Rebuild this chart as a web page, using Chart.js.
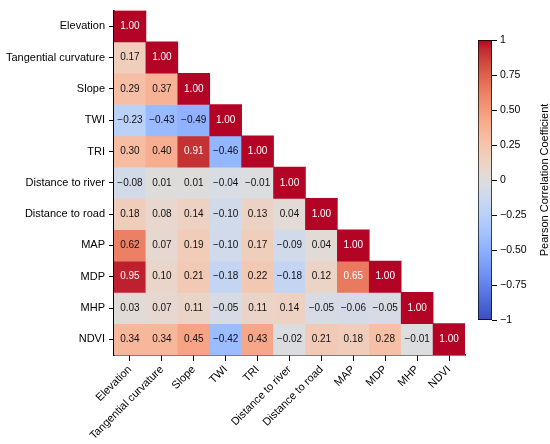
<!DOCTYPE html>
<html>
<head>
<meta charset="utf-8">
<script src="https://cdn.jsdelivr.net/npm/chart.js@4.4.0/dist/chart.umd.min.js"></script>
<style>
body{margin:0;background:#fff;}
#wrap{position:relative;width:550px;height:444px;}
#cb{position:absolute;left:470px;top:30px;}
</style>
</head>
<body>
<div id="wrap">
<canvas id="heat" width="550" height="444"></canvas>
<canvas id="cb" width="80" height="300"></canvas>
</div>
<script>
const varNames = ['Elevation','Tangential curvature','Slope','TWI','TRI','Distance to river',
  'Distance to road','MAP','MDP','MHP','NDVI'];

// lower triangle, row by row
const corrRows = [
  [1.00],
  [0.17, 1.00],
  [0.29, 0.37, 1.00],
  [-0.23, -0.43, -0.49, 1.00],
  [0.30, 0.40, 0.91, -0.46, 1.00],
  [-0.08, 0.01, 0.01, -0.04, -0.01, 1.00],
  [0.18, 0.08, 0.14, -0.10, 0.13, 0.04, 1.00],
  [0.62, 0.07, 0.19, -0.10, 0.17, -0.09, 0.04, 1.00],
  [0.95, 0.10, 0.21, -0.18, 0.22, -0.18, 0.12, 0.65, 1.00],
  [0.03, 0.07, 0.11, -0.05, 0.11, 0.14, -0.05, -0.06, -0.05, 1.00],
  [0.34, 0.34, 0.45, -0.42, 0.43, -0.02, 0.21, 0.18, 0.28, -0.01, 1.00]
];

const cbTicks = [-1, -0.75, -0.5, -0.25, 0, 0.25, 0.5, 0.75, 1];
const cbTitle = 'Pearson Correlation Coefficient';

// coolwarm colormap stops
const cw = [[59,76,192],[68,90,204],[77,104,215],[87,117,225],[98,130,234],[108,142,241],
  [119,154,247],[130,165,251],[141,176,254],[152,185,255],[163,194,255],[174,201,253],
  [184,208,249],[194,213,244],[204,217,238],[213,219,230],[221,221,221],[229,216,209],
  [236,211,197],[241,204,185],[245,196,173],[247,187,160],[247,177,148],[247,166,135],
  [244,154,123],[241,141,111],[236,127,99],[229,112,88],[222,96,77],[213,80,66],
  [203,62,56],[192,40,47],[180,4,38]];

function coolwarm(v){
  let t = (v + 1) / 2 * 32;
  t = Math.max(0, Math.min(32, t));
  const i = Math.min(31, Math.floor(t));
  const f = t - i;
  const a = cw[i], b = cw[i+1];
  const c = a.map((x,k) => Math.round(x + (b[k]-x)*f));
  return 'rgb(' + c.join(',') + ')';
}

function fmt(v){
  const s = Math.abs(v).toFixed(2);
  return v < 0 ? '\u2212' + s : s;
}

Chart.defaults.font.family = '"Liberation Sans", Arial, sans-serif';
Chart.defaults.color = '#000';

// one dataset per row, floating bars over the row's band
const datasets = corrRows.map((row, i) => ({
  label: varNames[i],
  data: varNames.map((n, j) => j < row.length ? [i, i+1] : null),
  backgroundColor: varNames.map((n, j) => j < row.length ? coolwarm(row[j]) : 'rgba(0,0,0,0)'),
  borderWidth: 0,
  barPercentage: 1,
  categoryPercentage: 1,
  grouped: false
}));

const cellText = {
  id: 'cellText',
  afterDatasetsDraw(chart){
    const ctx = chart.ctx;
    ctx.save();
    ctx.font = '10px "Liberation Sans", Arial, sans-serif';
    ctx.textAlign = 'center';
    ctx.textBaseline = 'middle';
    corrRows.forEach((row, i) => {
      const meta = chart.getDatasetMeta(i);
      row.forEach((v, j) => {
        const el = meta.data[j];
        ctx.fillStyle = v > 0.63 ? '#fff' : '#111';
        ctx.fillText(fmt(v), el.x, (el.y + el.base) / 2);
      });
    });
    ctx.restore();
  }
};

new Chart(document.getElementById('heat'), {
  type: 'bar',
  data: { labels: varNames, datasets: datasets },
  options: {
    responsive: false,
    animation: false,
    layout: { padding: { top: 4, right: 85, left: 0, bottom: 0 } },
    plugins: { legend: { display: false }, tooltip: { enabled: false } },
    scales: {
      x: {
        type: 'category',
        afterFit(s){ s.height = 89; },
        grid: { drawOnChartArea: false, offset: false, tickLength: 6, color: '#000' },
        border: { display: true, color: '#000', width: 1.5 },
        ticks: { minRotation: 45, maxRotation: 45, autoSkip: false, padding: 2,
                 font: { size: 11 } }
      },
      y: {
        type: 'linear',
        min: 0, max: varNames.length,
        reverse: true,
        afterFit(s){ s.width = 114; },
        afterBuildTicks(s){ s.ticks = varNames.map((n, i) => ({ value: i + 0.5 })); },
        grid: { drawOnChartArea: false, tickLength: 5, color: '#000' },
        border: { display: true, color: '#000', width: 1.5 },
        ticks: { autoSkip: false, padding: 4, font: { size: 11 },
                 callback: v => varNames[Math.round(v - 0.5)] }
      }
    }
  },
  plugins: [cellText]
});

// colour bar
const cbTitlePlugin = {
  id: 'cbTitle',
  afterDraw(chart){
    const ctx = chart.ctx;
    const a = chart.chartArea;
    ctx.save();
    ctx.font = '11px "Liberation Sans", Arial, sans-serif';
    ctx.fillStyle = '#000';
    ctx.textAlign = 'center';
    ctx.textBaseline = 'middle';
    ctx.translate(75, (a.top + a.bottom) / 2);
    ctx.rotate(-Math.PI / 2);
    ctx.fillText(cbTitle, 0, 0);
    ctx.restore();
  }
};

new Chart(document.getElementById('cb'), {
  type: 'bar',
  data: {
    labels: [''],
    datasets: [{
      data: [[-1, 1]],
      backgroundColor(c){
        const a = c.chart.chartArea;
        if (!a) return '#ddd';
        const g = c.chart.ctx.createLinearGradient(0, a.bottom, 0, a.top);
        cw.forEach((col, k) => g.addColorStop(k / 32, 'rgb(' + col.join(',') + ')'));
        return g;
      },
      borderColor: '#000',
      borderWidth: 1,
      borderSkipped: false,
      barPercentage: 1,
      categoryPercentage: 1
    }]
  },
  options: {
    responsive: false,
    animation: false,
    layout: { padding: { top: 10, bottom: 10, left: 8, right: 0 } },
    plugins: { legend: { display: false }, tooltip: { enabled: false } },
    scales: {
      x: { display: false },
      y: {
        position: 'right',
        min: -1, max: 1,
        afterFit(s){ s.width = 58; },
        afterBuildTicks(s){ s.ticks = cbTicks.map(v => ({ value: v })); },
        grid: { drawOnChartArea: false, tickLength: 5, color: '#000' },
        border: { display: false },
        ticks: { padding: 3, font: { size: 10.5 },
                 callback: v => (v === 1 || v === -1 || v === 0) ? (v < 0 ? '\u22121' : String(v)) : fmt(v) }
      }
    }
  },
  plugins: [cbTitlePlugin]
});
</script>
</body>
</html>
